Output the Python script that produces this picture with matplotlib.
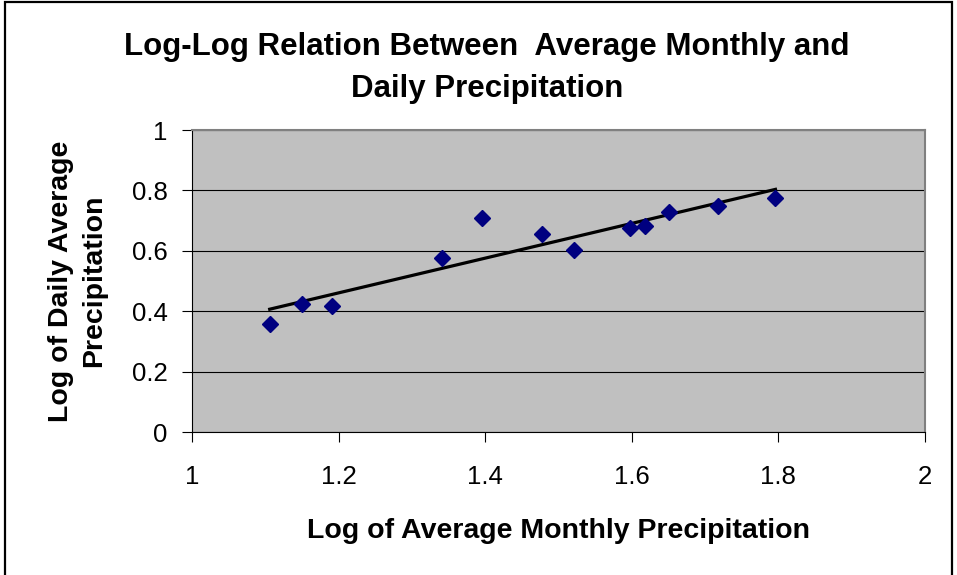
import numpy as np
import matplotlib
matplotlib.use('Agg')
import matplotlib.pyplot as plt
from matplotlib.patches import Rectangle

plt.rcParams['font.family'] = ['Liberation Sans', 'DejaVu Sans']

# log of average monthly precipitation vs log of daily average precipitation
log_monthly = [1.106, 1.150, 1.191, 1.341, 1.395, 1.477, 1.521, 1.597, 1.618, 1.651, 1.717, 1.796]
log_daily = [0.358, 0.423, 0.417, 0.577, 0.709, 0.655, 0.603, 0.675, 0.681, 0.729, 0.749, 0.774]

x_ticks = [1, 1.2, 1.4, 1.6, 1.8, 2]
y_ticks = [0, 0.2, 0.4, 0.6, 0.8, 1]

fig = plt.figure(figsize=(9.57, 5.75), dpi=100)
ax = fig.add_axes([192/957, 1 - 432.3/575, (925 - 192)/957, (432.3 - 130)/575])
ax.set_facecolor('#C0C0C0')

# linear trendline
slope, intercept = np.polyfit(log_monthly, log_daily, 1)
xs = np.array([min(log_monthly), max(log_monthly)])
ax.plot(xs, slope * xs + intercept, color='black', lw=2.3, zorder=3)

ax.plot(log_monthly, log_daily, linestyle='none', marker='D', ms=8.5,
        color='#000080', zorder=4)

ax.set_xlim(1, 2)
ax.set_ylim(0, 1)
ax.set_xticks(x_ticks)
ax.set_xticklabels(['1', '1.2', '1.4', '1.6', '1.8', '2'])
ax.set_yticks(y_ticks)
ax.set_yticklabels(['0', '0.2', '0.4', '0.6', '0.8', '1'])
ax.grid(axis='y', color='black', lw=0.8)
ax.set_axisbelow(True)

ax.tick_params(axis='both', direction='out', length=7.5, width=0.8, labelsize=18.5)
ax.tick_params(axis='x', pad=16)
ax.tick_params(axis='y', pad=10)

for s in ['top', 'right']:
    ax.spines[s].set_color('#808080')
    ax.spines[s].set_linewidth(1.5)
for s in ['left', 'bottom']:
    ax.spines[s].set_color('black')
    ax.spines[s].set_linewidth(0.8)

ax.set_xlabel('Log of Average Monthly Precipitation', fontsize=20.5, fontweight='bold', labelpad=21)
ax.set_ylabel('Log of Daily Average\nPrecipitation', fontsize=20.5, fontweight='bold', labelpad=18,
              linespacing=1.35)

fig.text(487/957, 1 - 68/575, 'Log-Log Relation Between  Average Monthly and\nDaily Precipitation',
         ha='center', va='center', fontsize=22.5, fontweight='bold', linespacing=1.55)

fig.patches.append(Rectangle((5/957, -0.01), (952 - 5)/957, 1 - 2/575 + 0.01,
                             transform=fig.transFigure, fill=False, edgecolor='black', lw=1.6))

fig.savefig('out.png', dpi=100)
